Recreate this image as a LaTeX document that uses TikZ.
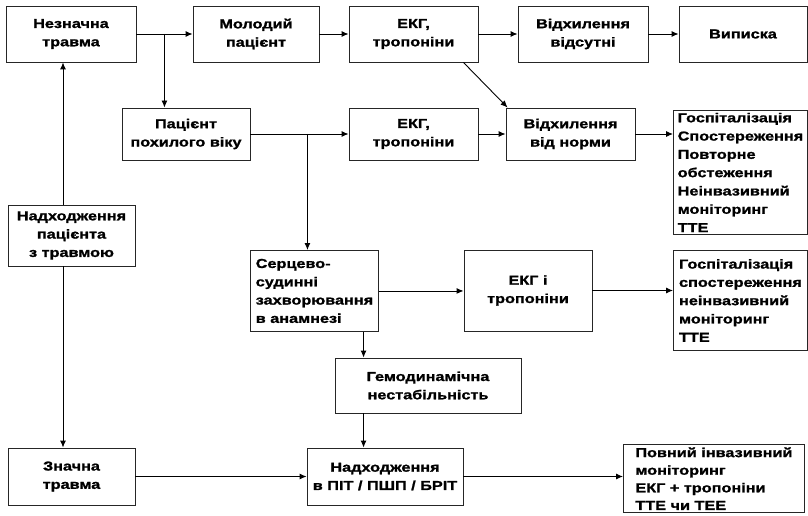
\documentclass[tikz,border=0pt]{standalone}
\usepackage{fontspec}
\setmainfont[FakeStretch=1.25, BoldFeatures={FakeBold=1.3}]{Liberation Sans}
\usepackage{tikz}
\usetikzlibrary{arrows.meta,positioning,calc}

\begin{document}
\begin{tikzpicture}[x=1pt, y=-1pt, line width=0.9pt, >={Latex[length=7pt,width=6pt]},
    box/.style={draw=black!85, align=center, inner sep=2pt,
                font=\bfseries\fontsize{13}{18.3}\selectfont},
    lbox/.style={box, align=left, anchor=north west}]
                    \useasboundingbox (0,0) rectangle (808,516);
                    \node[box, minimum width=130, minimum height=56] (minor) at (71,34) {Незначна\\травма};
                    \node[box, minimum width=126, minimum height=56] (young) at (256,34) {Молодий\\пацієнт};
                    \node[box, minimum width=129, minimum height=56] (ecg1) at (413.5,34) {ЕКГ,\\тропоніни};
                    \node[box, minimum width=130, minimum height=56] (nodev) at (583,34) {Відхилення\\відсутні};
                    \node[box, minimum width=128, minimum height=56] (disch) at (743,34) {Виписка};
                    \node[box, minimum width=128, minimum height=52] (elderly) at (186,134) {Пацієнт\\похилого віку};
                    \node[box, minimum width=129, minimum height=52] (ecg2) at (413.5,134) {ЕКГ,\\тропоніни};
                    \node[box, minimum width=129, minimum height=52] (dev) at (570.5,134) {Відхилення\\від норми};
                    \node[lbox, minimum width=134, minimum height=124] (hosp1) at (673,110)
                        {Госпіталізація\\Спостереження\\Повторне\\обстеження\\Неінвазивний\\моніторинг\\ТТЕ};
                    \node[box, minimum width=127, minimum height=61] (arrival) at (71.5,235.5) {Надходження\\пацієнта\\з травмою};
                    \node[lbox, minimum width=128, minimum height=81] (cvd) at (250,250)
                        {Серцево-\\судинні\\захворювання\\в анамнезі};
                    \node[box, minimum width=128, minimum height=81] (ecg3) at (528,290.5) {ЕКГ і\\тропоніни};
                    \node[lbox, minimum width=134, minimum height=100] (hosp2) at (673,250)
                        {Госпіталізація\\спостереження\\неінвазивний\\моніторинг\\ТТЕ};
                    \node[box, minimum width=186, minimum height=55] (hemo) at (428,385.5) {Гемодинамічна\\нестабільність};
                    \node[box, minimum width=127, minimum height=57] (major) at (71.5,476.5) {Значна\\травма};
                    \node[box, minimum width=156, minimum height=57] (icu) at (385,476.5) {Надходження\\в ПІТ / ПШП / БРІТ};
                    \node[lbox, minimum width=181, inner ysep=3pt, font=\bfseries\fontsize{13}{17.6}\selectfont] (full) at (623,444)
                        {Повний інвазивний\\моніторинг\\ЕКГ + тропоніни\\ТТЕ чи ТЕЕ};
                    \coordinate (split1) at ($(minor.east)+(28,0)$);
                    \coordinate (split2) at ($(elderly.east)+(57,0)$);
                    \coordinate (trunk) at ($(arrival.north)+(-8.5,0)$);
                    \coordinate (drop) at ($(hemo.north west)+(29,0)$);
                    \draw[->] (minor) -- (young);
                    \draw[->] (young) -- (ecg1);
                    \draw[->] (ecg1) -- (nodev);
                    \draw[->] (nodev) -- (disch);
                    \draw[->] (split1) -- (split1 |- elderly.north);
                    \draw[->] ($(ecg1.south east)+(-15,0)$) -- ($(dev.north west)+(2,0)$);
                    \draw[->] (elderly) -- (ecg2);
                    \draw[->] (ecg2) -- (dev);
                    \draw[->] (dev.east) -- (dev.east -| hosp1.west);
                    \draw[->] (split2) -- (split2 |- cvd.north);
                    \draw[->] (trunk) -- (trunk |- minor.south);
                    \draw[->] (trunk |- arrival.south) -- (trunk |- major.north);
                    \draw[->] (cvd.east) -- (cvd.east -| ecg3.west);
                    \draw[->] (ecg3.east) -- (ecg3.east -| hosp2.west);
                    \draw[->] (drop |- cvd.south) -- (drop);
                    \draw[->] (drop |- hemo.south) -- (drop |- icu.north);
                    \draw[->] (major) -- (icu);
                    \draw[->] (icu.east) -- (icu.east -| full.west);
                \end{tikzpicture}
\end{document}
